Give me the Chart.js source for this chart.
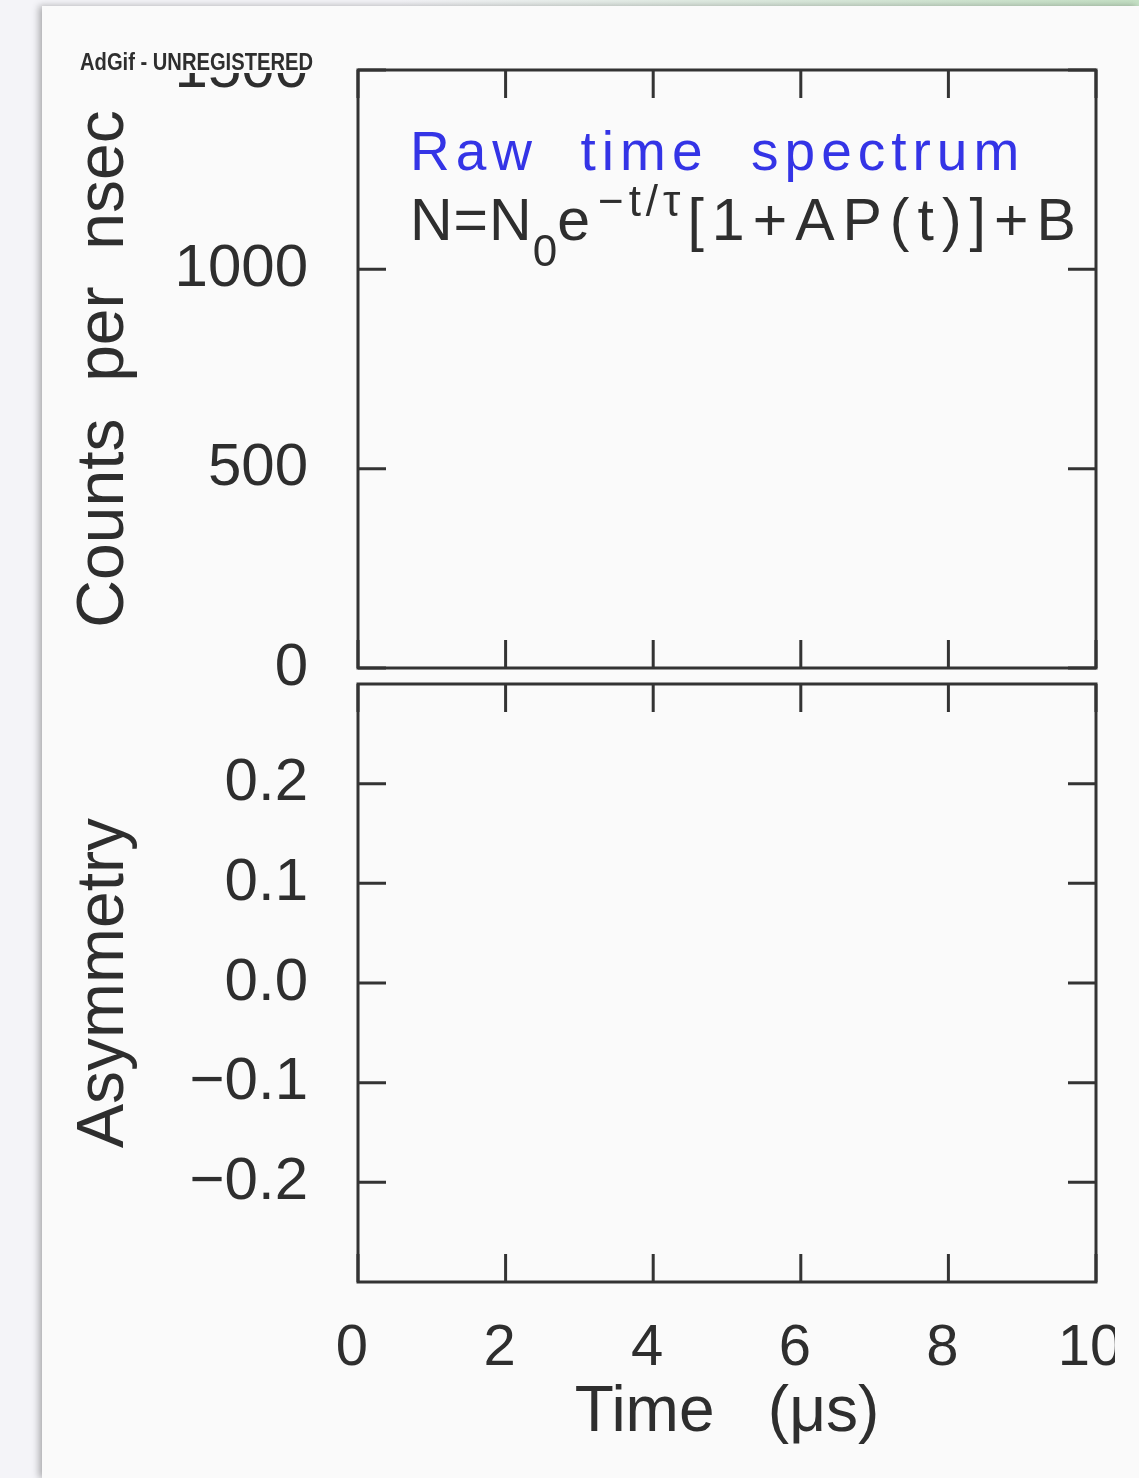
<!DOCTYPE html>
<html>
<head>
<meta charset="utf-8">
<script src="https://cdn.jsdelivr.net/npm/chart.js@4.4.1/dist/chart.umd.min.js"></script>
<title>Raw time spectrum</title>
<style>
  body { margin: 0; width: 1139px; height: 1478px; background: #f4f4f8; overflow: hidden; position: relative; }
  #strip { position: absolute; left: 0; top: 0; width: 1139px; height: 6px; background: linear-gradient(to right, #f4f4f8 35%, #c6e2c6 100%); }
  #card { position: absolute; left: 42px; top: 6px; width: 1097px; height: 1472px; background: #fafafa; box-shadow: -3px 0 7px rgba(0,0,0,0.3); }
  #top { position: absolute; left: 0; top: 0; }
  #botWrap { position: absolute; left: 0; top: 636px; width: 1115px; height: 842px; overflow: hidden; }
</style>
</head>
<body>
<div id="strip"></div>
<div id="card"></div>
<canvas id="top" width="1139" height="720"></canvas>
<div id="botWrap"><canvas id="bottom" width="1139" height="842"></canvas></div>
<script>
// axes of the figure (the panels hold no data)
const timeRange = [0, 10];
const timeTicks = [0, 2, 4, 6, 8, 10];
const timeLabels = ['0', '2', '4', '6', '8', '10'];
const countRange = [0, 1500];
const countTicks = [0, 500, 1000, 1500];
const countLabels = ['0', '500', '1000', '1500'];
const asymRange = [-0.3, 0.3];
const asymTicks = [-0.2, -0.1, 0, 0.1, 0.2];
const asymLabels = ['−0.2', '−0.1', '0.0', '0.1', '0.2'];
const countsData = [];
const asymData = [];

const FONT = "'Liberation Sans', Arial, sans-serif";
const INK = '#2e2e2e';

function setTicks(list) {
  return scale => { scale.ticks = list.map(v => ({ value: v })); };
}
// fixed axis size, and no extra room for labels hanging over the ends
function fixSize(prop, size) {
  return s => {
    s[prop] = size;
    s.paddingTop = s.paddingBottom = s.paddingLeft = s.paddingRight = 0;
  };
}

// frame + inward ticks on all four sides
const framePlugin = {
  id: 'frame',
  afterDraw(chart) {
    const { ctx, chartArea: a, scales } = chart;
    const tl = 28;
    ctx.save();
    ctx.strokeStyle = '#333';
    ctx.lineWidth = 3;
    ctx.strokeRect(a.left, a.top, a.right - a.left, a.bottom - a.top);
    ctx.beginPath();
    scales.y.ticks.forEach(t => {
      const y = scales.y.getPixelForValue(t.value);
      ctx.moveTo(a.left, y); ctx.lineTo(a.left + tl, y);
      ctx.moveTo(a.right, y); ctx.lineTo(a.right - tl, y);
    });
    scales.x.ticks.forEach(t => {
      const x = scales.x.getPixelForValue(t.value);
      ctx.moveTo(x, a.bottom); ctx.lineTo(x, a.bottom - tl);
      ctx.moveTo(x, a.top); ctx.lineTo(x, a.top + tl);
    });
    ctx.stroke();
    ctx.restore();
  }
};

// watermark, label and formula in the top panel
const topText = {
  id: 'topText',
  afterDraw(chart) {
    const { ctx, chartArea: a } = chart;
    ctx.save();
    ctx.fillStyle = '#fafafa';
    ctx.fillRect(74, 40, 246, 33);
    ctx.fillStyle = INK;
    ctx.font = "bold 23px 'Liberation Sans', sans-serif";
    ctx.textBaseline = 'alphabetic';
    ctx.fillText('AdGif - UNREGISTERED', 80, 70, 233);

    let x = a.left + 52;
    ctx.fillStyle = '#3434e6';
    ctx.font = '55px ' + FONT;
    ctx.letterSpacing = '6px';
    ctx.fillText('Raw  time  spectrum', x, 170);

    ctx.fillStyle = INK;
    const parts = [
      ['N=N', 59, 240, '1px', 0],
      ['0', 44, 266, '0px', 0],
      ['e', 59, 240, '0px', 0],
      ['−t/τ', 44, 216, '5px', 8],
      ['[1+AP(t)]+B', 59, 240, '8px', 2]
    ];
    parts.forEach(p => {
      x += p[4];
      ctx.font = p[1] + 'px ' + FONT;
      ctx.letterSpacing = p[3];
      ctx.fillText(p[0], x, p[2]);
      x += ctx.measureText(p[0]).width;
    });
    ctx.restore();
  }
};

const tickFont = { family: FONT, size: 60, lineHeight: 1 };
const titleFont = { family: FONT, size: 66, lineHeight: 1 };

new Chart(document.getElementById('top'), {
  type: 'scatter',
  data: { datasets: [{ data: countsData, pointRadius: 0 }] },
  options: {
    responsive: false,
    animation: false,
    layout: { padding: { left: 0, top: 70, right: 43, bottom: 52 } },
    plugins: { legend: { display: false }, tooltip: { enabled: false } },
    scales: {
      x: {
        type: 'linear', min: timeRange[0], max: timeRange[1],
        afterBuildTicks: setTicks(timeTicks),
        afterFit: fixSize('height', 0),
        ticks: { display: false },
        grid: { display: false, drawTicks: false },
        border: { display: false }
      },
      y: {
        type: 'linear', min: countRange[0], max: countRange[1],
        afterBuildTicks: setTicks(countTicks),
        afterFit: fixSize('width', 358),
        ticks: { color: INK, font: tickFont, padding: 50, callback: (v, i) => countLabels[i] },
        grid: { display: false, drawTicks: false },
        border: { display: false },
        title: { display: true, text: 'Counts  per  nsec', color: INK, font: titleFont, padding: { top: 72, bottom: 0 } }
      }
    }
  },
  plugins: [framePlugin, topText]
});

new Chart(document.getElementById('bottom'), {
  type: 'scatter',
  data: { datasets: [{ data: asymData, pointRadius: 0 }] },
  options: {
    responsive: false,
    animation: false,
    layout: { padding: { left: 0, top: 48, right: 43, bottom: 0 } },
    plugins: { legend: { display: false }, tooltip: { enabled: false } },
    scales: {
      x: {
        type: 'linear', min: timeRange[0], max: timeRange[1],
        afterBuildTicks: setTicks(timeTicks),
        afterFit: fixSize('height', 196),
        ticks: { color: INK, font: { family: FONT, size: 58, lineHeight: 1 }, padding: 38, labelOffset: -6, maxRotation: 0, callback: (v, i) => timeLabels[i] },
        grid: { display: false, drawTicks: false },
        border: { display: false },
        title: { display: true, text: 'Time   (μs)', color: INK, font: { family: FONT, size: 64, lineHeight: 1 }, padding: { top: 0, bottom: 33 } }
      },
      y: {
        type: 'linear', min: asymRange[0], max: asymRange[1],
        afterBuildTicks: setTicks(asymTicks),
        afterFit: fixSize('width', 358),
        ticks: { color: INK, font: tickFont, padding: 50, callback: (v, i) => asymLabels[i] },
        grid: { display: false, drawTicks: false },
        border: { display: false },
        title: { display: true, text: 'Asymmetry', color: INK, font: titleFont, padding: { top: 72, bottom: 0 } }
      }
    }
  },
  plugins: [framePlugin]
});
</script>
</body>
</html>
